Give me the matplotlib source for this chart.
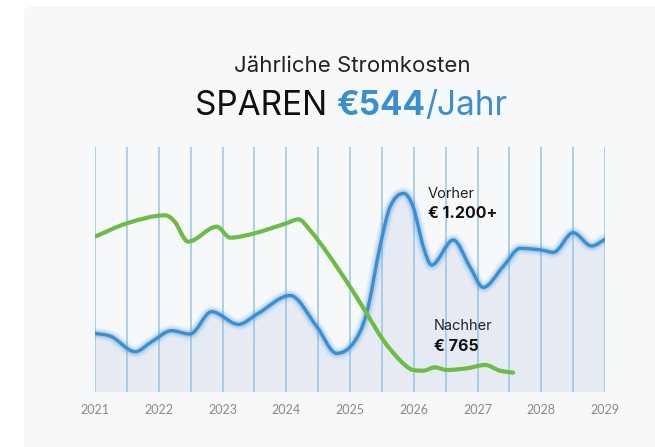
import numpy as np
import matplotlib
matplotlib.use("Agg")
import matplotlib.pyplot as plt
from matplotlib.path import Path
from matplotlib.patches import PathPatch, FancyBboxPatch

# data (year, EUR)
before_x = [2021.0, 2021.26, 2021.63, 2021.89, 2022.2, 2022.49, 2022.83, 2023.25, 2023.56,
            2024.06, 2024.48, 2024.79, 2025.05, 2025.26, 2025.47, 2025.63, 2025.84, 2025.99,
            2026.15, 2026.28, 2026.62, 2026.88, 2027.09, 2027.4, 2027.67, 2028.0, 2028.19,
            2028.5, 2028.79, 2029.0]
before_y = [352, 332, 242, 302, 368, 348, 482, 406, 472,
            579, 392, 232, 292, 472, 872, 1112, 1192, 1112,
            872, 762, 912, 752, 628, 752, 862, 852, 838,
            956, 876, 916]

after_x = [2021.0, 2021.5, 2022.1, 2022.25, 2022.46, 2022.91, 2023.12, 2023.5, 2024.0,
           2024.19, 2024.37, 2024.63, 2025.0, 2025.26, 2025.52, 2025.78, 2025.99, 2026.15,
           2026.33, 2026.52, 2026.83, 2027.12, 2027.35, 2027.56]
after_y = [932, 1012, 1060, 1022, 902, 992, 926, 952, 1012,
           1036, 972, 842, 632, 472, 312, 192, 132, 128,
           148, 132, 142, 162, 128, 116]

years = [2021, 2022, 2023, 2024, 2025, 2026, 2027, 2028, 2029]
grid_x = np.arange(2021, 2029.01, 0.5)

BLUE = "#3a8fd2"
GREEN = "#6cbd45"
CARD = "#f7f8fa"


def smooth_path(x, y):
    # cubic bezier through the points, flat tangents at local extrema
    x = np.asarray(x, float)
    y = np.asarray(y, float)
    h = np.diff(x)
    d = np.diff(y) / h
    m = np.zeros_like(y)
    m[0], m[-1] = d[0], d[-1]
    for i in range(1, len(y) - 1):
        if d[i - 1] * d[i] <= 0:
            m[i] = 0
        else:
            m[i] = (y[i + 1] - y[i - 1]) / (x[i + 1] - x[i - 1])
            lim = 3 * min(abs(d[i - 1]), abs(d[i]))
            m[i] = np.sign(m[i]) * min(abs(m[i]), lim)
    verts = [(x[0], y[0])]
    codes = [Path.MOVETO]
    for i in range(len(x) - 1):
        verts += [(x[i] + h[i] / 3, y[i] + m[i] * h[i] / 3),
                  (x[i + 1] - h[i] / 3, y[i + 1] - m[i + 1] * h[i] / 3),
                  (x[i + 1], y[i + 1])]
        codes += [Path.CURVE4] * 3
    return verts, codes


fig = plt.figure(figsize=(6.55, 4.47), dpi=100)
fig.patch.set_facecolor("white")

card = FancyBboxPatch((24, -20), 700, 447 - 6 + 20, boxstyle="round,pad=0,rounding_size=8",
                      transform=None, facecolor=CARD, edgecolor="none", zorder=-10)
fig.patches.append(card)

ax = fig.add_axes([95 / 655, (447 - 392) / 447, 510 / 655, 245 / 447])
ax.set_zorder(1)
ax.set_facecolor("none")
ax.set_xlim(2021, 2029)
ax.set_ylim(0, 1470)
for s in ax.spines.values():
    s.set_visible(False)

# fill under "before" curve
bv, bc = smooth_path(before_x, before_y)
fill_verts = bv + [(before_x[-1], 0), (before_x[0], 0), (before_x[0], before_y[0])]
fill_codes = bc + [Path.LINETO, Path.LINETO, Path.CLOSEPOLY]
ax.add_patch(PathPatch(Path(fill_verts, fill_codes), facecolor="#e6ebf3",
                       edgecolor="none", zorder=1))

ax.vlines(grid_x, 0, 1470, color="#94c6ec", lw=1.1, zorder=2)

# glow under blue line
for lw, a in [(9, 0.07), (6.5, 0.11), (4.5, 0.18)]:
    ax.add_patch(PathPatch(Path(bv, bc), facecolor="none", edgecolor=BLUE,
                           lw=lw, alpha=a, capstyle="round", zorder=3))
ax.add_patch(PathPatch(Path(bv, bc), facecolor="none", edgecolor=BLUE,
                       lw=2.4, capstyle="round", zorder=4))

gv, gc = smooth_path(after_x, after_y)
ax.add_patch(PathPatch(Path(gv, gc), facecolor="none", edgecolor=GREEN,
                       lw=3.0, capstyle="round", joinstyle="round", zorder=5))

ax.set_xticks(years)
ax.set_xticklabels([str(y) for y in years], fontsize=9, color="#8a8a8a", family="Lato")
ax.tick_params(axis="x", length=0, pad=9)
ax.set_yticks([])

# annotations
ax.text(2026.22, 1190, "Vorher", fontsize=10.5, color="#222222", va="center", family="Inter", zorder=6)
ax.text(2026.22, 1074, "€ 1.200+", fontsize=11.5, color="#111111", va="center",
        fontweight="bold", family="Inter", zorder=6)
ax.text(2026.31, 396, "Nachher", fontsize=10.5, color="#222222", va="center", family="Inter", zorder=6)
ax.text(2026.31, 272, "€ 765", fontsize=11.5, color="#111111", va="center",
        fontweight="bold", family="Inter", zorder=6)

# titles
fig.text(352 / 655, 1 - 66 / 447, "Jährliche Stromkosten", ha="center", va="center",
         fontsize=16, color="#222222", family="Inter")

parts = [("SPAREN ", "#111111", "normal"), ("€544", BLUE, "bold"), ("/Jahr", BLUE, "normal")]
texts = [fig.text(0, 1 - 106 / 447, s, fontsize=24, color=c, fontweight=w,
                  family="Inter", va="center", ha="left") for s, c, w in parts]
fig.canvas.draw()
r = fig.canvas.get_renderer()
widths = [t.get_window_extent(r).width for t in texts]
x0 = 351 - sum(widths) / 2
for t, w in zip(texts, widths):
    t.set_x(x0 / 655)
    x0 += w

fig.savefig("out.png", dpi=100, facecolor="white")
